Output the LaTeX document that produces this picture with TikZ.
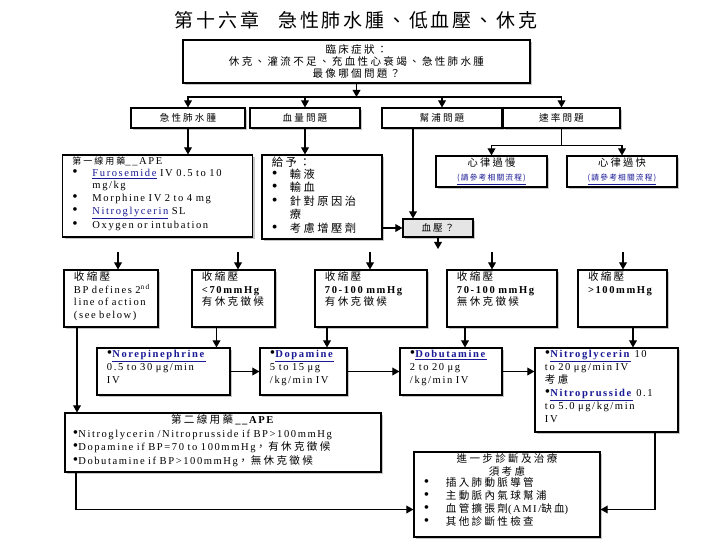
\documentclass[tikz,border=0pt]{standalone}
\usepackage{fontspec}
\setmainfont{Liberation Serif}[LetterSpace=15]
\newfontfamily\zh[LetterSpace=15]{Noto Sans CJK TC}
\newfontfamily\zhw[LetterSpace=22]{Noto Sans CJK TC}
\usetikzlibrary{arrows.meta,calc,shadows}
\definecolor{linkblue}{RGB}{25,25,150}
\tikzset{every picture/.style={line width=0.8pt}}
\tikzset{
  pbox/.style={draw, fill=white, inner xsep=0.25cm, inner ysep=0.05cm,
    drop shadow={shadow xshift=1.6pt, shadow yshift=-1.6pt, opacity=0.45}},
  arr/.style={-{Triangle[length=5pt,width=5.5pt]}},
}
\newcommand{\fs}[2]{\fontsize{#1}{#2}\selectfont}
\newcommand{\lnk}[1]{\textcolor{linkblue}{\underline{#1}}}
\newcommand{\blt}{{\rmfamily\scalebox{1.45}{\textbullet}}}
\newcommand{\boxbody}[2]{\parbox[c][#1][t]{\linewidth}{\raggedright #2}}

\begin{document}
\begin{tikzpicture}[x=0.025cm, y=-0.025cm]
    \useasboundingbox (0,0) rectangle (720,540);

    % 標題
    \node[font=\zh\fs{13.5}{16}] (title) at (356,20) {第十六章\quad 急性肺水腫、低血壓、休克};

    % 臨床症狀
    \node[pbox, minimum width=8.675cm, minimum height=1.075cm, align=center,
          font=\zhw\fs{7.5}{8.6}] (clin) at (356.5,61.5)
        {臨床症狀：\\休克、灌流不足、充血性心衰竭、急性肺水腫\\最像哪個問題？};
    \coordinate (split1) at (356.5,97);

    % 四種問題
    \node[pbox, minimum width=2.85cm, minimum height=0.5cm, font=\zhw\fs{6.8}{8}] (edema) at (188,118) {急性肺水腫};
    \node[pbox, minimum width=2.75cm, minimum height=0.5cm, font=\zhw\fs{6.8}{8}] (volume) at (305,118) {血量問題};
    \node[pbox, minimum width=3.0cm, minimum height=0.5cm, font=\zhw\fs{6.8}{8}] (pump) at (442,118) {幫浦問題};
    \node[pbox, minimum width=2.925cm, minimum height=0.5cm, font=\zhw\fs{6.8}{8}] (rate) at (561.5,118) {速率問題};

    % 第一線用藥
    \node[pbox, text width=4.25cm, font=\fs{7.5}{9}] (first) at (157.5,196) {\boxbody{1.95cm}{%
        {\zhw\fs{6.4}{9}第一線用藥}\_\_APE\\
        \begin{tabular}{@{}p{0.5cm}@{}l@{}}
        \blt & \lnk{Furosemide} IV 0.5 to 10\\
             & mg/kg\\
        \blt & Morphine IV 2 to 4 mg\\
        \blt & \lnk{Nitroglycerin} SL\\
        \blt & Oxygen or intubation
        \end{tabular}}};

    % 給予
    \node[pbox, text width=2.5cm, font=\zhw\fs{8}{9.3}] (give) at (322,197) {\boxbody{2.0cm}{%
        給予：\\
        \begin{tabular}{@{}p{0.45cm}@{}l@{}}
        \blt & 輸液\\
        \blt & 輸血\\
        \blt & 針對原因治\\
             & 療\\
        \blt & 考慮增壓劑
        \end{tabular}}};

    % 心律
    \node[pbox, minimum width=2.775cm, minimum height=0.775cm, align=center, font=\zhw\fs{7.3}{10}] (slow) at (491.5,171.5)
        {心律過慢\\{\zh\fs{5.5}{8}\lnk{(請參考相關流程)}}};
    \node[pbox, minimum width=2.75cm, minimum height=0.775cm, align=center, font=\zhw\fs{7.3}{10}] (fast) at (622,171.5)
        {心律過快\\{\zh\fs{5.5}{8}\lnk{(請參考相關流程)}}};

    % 血壓
    \node[pbox, fill=gray!20, minimum width=1.75cm, minimum height=0.45cm, inner ysep=0pt,
          font=\zhw\fs{6.8}{8}] (bp) at (438,228) {血壓？};
    \coordinate (bpout) at (438,249);

    % 收縮壓
    \node[pbox, text width=1.85cm, font=\fs{7.5}{8.9}] (sb1) at (111,298.5) {\boxbody{1.325cm}{%
        {\zhw\fs{7.5}{8.9}收縮壓}\\\mbox{BP defines 2\textsuperscript{nd}}\\line of action\\(see below)}};
    \node[pbox, text width=1.575cm, font=\fs{7.5}{8.9}] (sb2) at (233.5,298.5) {\boxbody{1.325cm}{%
        {\zhw\fs{7.5}{8.9}收縮壓}\\\textbf{<70mmHg}\\{\zhw\fs{7.5}{8.9}有休克徵候}}};
    \node[pbox, text width=2.3cm, font=\fs{7.5}{8.9}] (sb3) at (371,298.5) {\boxbody{1.325cm}{%
        {\zhw\fs{7.5}{8.9}收縮壓}\\\textbf{70-100 mmHg}\\{\zhw\fs{7.5}{8.9}有休克徵候}}};
    \node[pbox, text width=2.25cm, font=\fs{7.5}{8.9}] (sb4) at (502,298.5) {\boxbody{1.325cm}{%
        {\zhw\fs{7.5}{8.9}收縮壓}\\\textbf{70-100 mmHg}\\{\zhw\fs{7.5}{8.9}無休克徵候}}};
    \node[pbox, text width=1.725cm, font=\fs{7.5}{8.9}] (sb5) at (622.5,298.5) {\boxbody{1.325cm}{%
        {\zhw\fs{7.5}{8.9}收縮壓}\\\textbf{>100mmHg}}};

    % 藥物
    \node[pbox, text width=2.825cm, font=\fs{7.5}{9.2}] (nor) at (163.5,371.5) {\boxbody{1.075cm}{%
        \blt\lnk{\textbf{Norepinephrine}}\\0.5 to 30 μg/min\\IV}};
    \node[pbox, text width=1.675cm, font=\fs{7.5}{9.2}] (dop) at (303.5,371.5) {\boxbody{1.075cm}{%
        \blt\lnk{\textbf{Dopamine}}\\5 to 15 μg\\/kg/min IV}};
    \node[pbox, text width=2.05cm, font=\fs{7.5}{9.2}] (dob) at (451,371.5) {\boxbody{1.075cm}{%
        \blt\lnk{\textbf{Dobutamine}}\\2 to 20 μg\\/kg/min IV}};
    \node[pbox, text width=3.075cm, font=\fs{7.5}{9.2}] (nit) at (606.5,390) {\boxbody{2.0cm}{%
        \blt\lnk{\textbf{Nitroglycerin}} 10\\to 20 μg/min IV\\{\zhw\fs{7.5}{9.2}考慮}\\
        \blt\lnk{\textbf{Nitroprusside}} 0.1\\to 5.0 μg/kg/min\\IV}};

    % 第二線用藥
    \node[pbox, inner xsep=0.2cm, text width=7.5cm, font=\fs{7.5}{9.6}] (sec) at (223,442.5) {\boxbody{1.375cm}{%
        \makebox[\linewidth]{{\zhw\fs{7.5}{9.6}第二線用藥}\textbf{\_\_APE}}\\
        \blt Nitroglycerin /Nitroprusside if BP>100mmHg\\
        \blt Dopamine if BP=70 to 100mmHg{\zhw\fs{7.5}{9.6}，有休克徵候}\\
        \blt Dobutamine if BP>100mmHg{\zhw\fs{7.5}{9.6}，無休克徵候}}};

    % 進一步診斷
    \node[pbox, text width=4.15cm, font=\zhw\fs{7.5}{9.1}] (fin) at (507,494.5) {\boxbody{2.025cm}{%
        \makebox[\linewidth]{進一步診斷及治療}\\
        \makebox[\linewidth]{須考慮}\\
        \begin{tabular}{@{}p{0.55cm}@{}l@{}}
        \blt & 插入肺動脈導管\\
        \blt & 主動脈內氣球幫浦\\
        \blt & 血管擴張劑{\rmfamily(AMI/}缺血{\rmfamily)}\\
        \blt & 其他診斷性檢查
        \end{tabular}}};

    % 連線
    \draw[arr] (clin.south) -- (split1);
    \foreach \dst in {edema,volume,pump,rate}
        \draw[arr] (split1) -| (\dst.north);

    \draw[arr] (edema.south) -- (edema.south |- first.north);
    \draw[arr] (volume.south) -- (volume.south |- give.north);
    \coordinate (pumpout) at ($(pump.south)+(-29,0)$);
    \draw[arr] (pumpout) -- (pumpout |- bp.north);
    \draw[arr] (rate.south) -- ++(0,17) -| (slow.north);
    \draw[arr] (rate.south) -- ++(0,17) -| (fast.north);
    \draw[arr] (give.east |- bp.west) -- (bp.west);
    \draw[arr] (bp.south) -- (bpout);

    \foreach \dst/\dx in {sb1/7,sb2/4.5,sb3/-1,sb4/-10,sb5/0.5}
        \draw[arr] ($(\dst.north)+(\dx,-17)$) -- ($(\dst.north)+(\dx,0)$);

    \foreach \src/\dst/\dx in {sb1/sec/-34,sb2/nor/-17,sb3/dop/-44,sb4/dob/-37,sb5/nit/10.5} {
        \coordinate (o) at ($(\src.south)+(\dx,0)$);
        \draw[arr] (o) -- (o |- \dst.north);
    }

    \draw[arr] (nor.east) -- (dop.west);
    \draw[arr] (dop.east) -- (dob.west);
    \draw[arr] (dob.east) -- (dob.east -| nit.west);

    \coordinate (secout) at ($(sec.south)+(-147,0)$);
    \draw[arr] (secout) |- ($(fin.west)+(0,15)$);
    \coordinate (nitout) at ($(nit.south)+(48.5,0)$);
    \draw[arr] (nitout) |- ($(fin.east)+(0,15)$);
\end{tikzpicture}
\end{document}
